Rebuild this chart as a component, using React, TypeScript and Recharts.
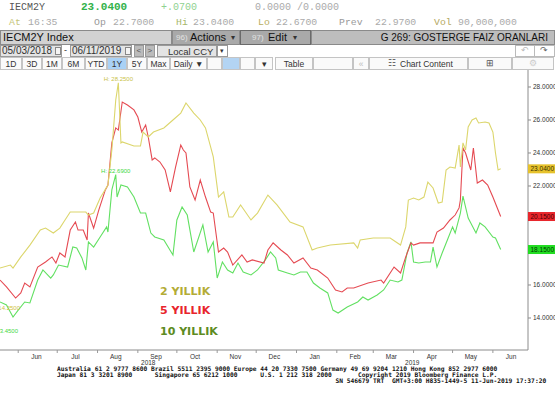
import React from "react";
import { LineChart, Line, XAxis, YAxis, ReferenceDot } from "recharts";

// day numbers count from 2018-06-01 (day 0); the visible window opens around 18 May 2018
const days2y = [-14, -6, -4, 2, 9, 17, 21, 27, 32, 35, 40, 45, 52, 54, 58, 63, 69, 72, 75, 77, 79, 80, 89, 94, 96, 100, 104, 112, 119, 125, 129, 135, 140, 144, 148, 150, 154, 158, 162, 165, 171, 179, 184, 192, 199, 209, 219, 226, 230, 240, 258, 261, 263, 273, 286, 294, 298, 300, 304, 308, 312, 315, 319, 323, 326, 329, 332, 336, 339, 340, 342, 344, 346, 349, 352, 354, 359, 362, 365, 367, 369, 371];
const vals2y = [17.03, 17.21, 17.03, 17.7, 18.42, 19.33, 19.45, 19.15, 19.45, 19.82, 20.42, 20.42, 20.42, 20.24, 20.36, 21.27, 22.06, 24.18, 27.21, 28.25, 24.61, 24.67, 24.42, 24.42, 25.27, 24.97, 25.27, 25.52, 26.0, 26.42, 27.03, 26.42, 26.0, 25.52, 24.36, 23.76, 21.33, 21.64, 20.12, 20.12, 20.85, 19.94, 20.36, 21.45, 20.85, 19.82, 19.52, 18.12, 18.24, 18.42, 18.55, 18.24, 18.73, 18.85, 18.85, 18.42, 19.52, 21.15, 21.27, 21.15, 21.33, 22.24, 21.88, 20.97, 21.03, 22.97, 23.15, 23.09, 24.48, 23.15, 24.61, 24.18, 25.58, 26.0, 26.12, 25.82, 25.88, 25.82, 25.27, 24.0, 22.97, 23.04];

const days5y = [-14, -9, -2, 2, 5, 9, 15, 21, 26, 29, 32, 36, 40, 44, 46, 50, 53, 54, 58, 62, 67, 69, 72, 75, 77, 80, 84, 89, 92, 95, 98, 100, 103, 105, 109, 113, 117, 121, 125, 127, 129, 132, 136, 140, 144, 148, 150, 154, 158, 161, 165, 172, 176, 180, 189, 192, 196, 202, 207, 212, 219, 225, 230, 238, 244, 249, 253, 258, 269, 279, 281, 289, 294, 298, 302, 304, 309, 319, 322, 327, 332, 336, 339, 340, 342, 344, 348, 350, 353, 357, 361, 365, 371];
const vals5y = [16.3, 15.88, 15.21, 15.52, 16.12, 15.88, 17.09, 17.39, 17.7, 17.33, 17.94, 17.7, 19.33, 19.82, 19.33, 19.33, 18.73, 20.36, 19.45, 20.55, 21.76, 22.06, 24.61, 25.52, 25.39, 27.09, 26.91, 26.61, 26.18, 25.27, 25.7, 24.97, 23.58, 23.7, 23.45, 22.97, 21.64, 23.15, 24.48, 24.18, 24.0, 21.94, 21.15, 22.36, 21.33, 20.42, 20.36, 18.0, 18.24, 18.0, 17.21, 17.82, 17.39, 17.52, 17.33, 18.12, 18.55, 18.12, 17.82, 17.33, 17.64, 17.03, 16.91, 16.42, 15.7, 15.58, 15.82, 15.82, 16.12, 16.3, 16.12, 17.09, 16.73, 17.7, 18.55, 18.42, 18.55, 18.55, 19.21, 19.45, 19.94, 20.24, 20.67, 21.15, 24.3, 24.0, 22.97, 24.3, 22.18, 22.36, 22.06, 21.33, 20.15];

const days10y = [-14, -9, -4, 0, 5, 9, 15, 19, 25, 27, 31, 38, 42, 45, 49, 52, 54, 58, 63, 68, 69, 72, 75, 76, 79, 84, 89, 94, 98, 102, 105, 112, 119, 122, 126, 130, 135, 142, 146, 150, 153, 157, 161, 165, 169, 173, 179, 184, 190, 194, 198, 200, 207, 212, 217, 222, 227, 232, 238, 242, 246, 253, 261, 265, 269, 276, 281, 286, 292, 295, 299, 302, 304, 308, 313, 317, 319, 322, 326, 330, 334, 336, 340, 342, 346, 352, 355, 359, 365, 367, 371];
const vals10y = [14.97, 14.79, 14.06, 14.48, 14.97, 14.91, 16.3, 16.91, 16.42, 16.61, 17.21, 17.09, 18.3, 18.24, 17.64, 16.91, 18.61, 18.3, 18.91, 19.52, 19.21, 21.76, 22.69, 21.33, 22.06, 21.94, 21.33, 20.36, 20.36, 19.15, 18.91, 18.73, 17.82, 19.94, 20.73, 20.24, 18.0, 19.64, 18.0, 18.61, 16.42, 17.39, 16.91, 16.73, 17.33, 16.79, 16.61, 16.91, 17.52, 18.0, 17.64, 16.91, 16.73, 16.61, 16.79, 16.79, 16.12, 15.82, 15.52, 14.48, 14.3, 14.67, 14.97, 15.27, 15.09, 15.39, 15.7, 16.3, 16.18, 16.3, 17.94, 18.61, 17.39, 17.33, 17.39, 17.39, 18.3, 17.09, 17.94, 18.73, 19.52, 19.15, 20.36, 21.39, 20.06, 19.15, 19.76, 19.52, 18.91, 18.85, 18.15];

// 18 and 20 sit behind the last-value tags, so they are not drawn
const yTicks = [14, 16, 22, 24, 26, 28];
const monthNames = ["Jun", "Jul", "Aug", "Sep", "Oct", "Nov", "Dec", "Jan", "Feb", "Mar", "Apr", "May", "Jun"];
const monthStarts = [0, 30, 61, 92, 122, 153, 183, 214, 245, 273, 304, 334, 365];
const monthMids = [14, 44, 75, 106, 136, 167, 197, 228, 259, 287, 318, 348, 379];
const yearNames = ["2018", "2019"];

const xDomain = [-14, 392];
const jan2019 = 214;
const yearMids = [(xDomain[0] + jan2019) / 2, (jan2019 + xDomain[1]) / 2];
const xTicks = [...monthStarts, ...monthMids, ...yearMids];

const toRows = (days: number[], vals: number[]) => days.map((d, i) => ({ d, v: vals[i] }));

const C2 = "#dcd66c";
const C5 = "#e54a52";
const C10 = "#62e062";

const mono = '"Liberation Mono", "DejaVu Sans Mono", monospace';
const sans = '"Liberation Sans", Arial, sans-serif';

function T({ x, y, s, c, f = mono, b, children }: any) {
  return (
    <div style={{ position: "absolute", left: x, top: y, fontSize: s, lineHeight: `${s}px`, color: c, fontFamily: f, fontWeight: b ? 700 : 400, whiteSpace: "pre" }}>
      {children}
    </div>
  );
}

function Box({ x, y, w, h, bg, bd }: any) {
  return <div style={{ position: "absolute", left: x, top: y, width: w, height: h, background: bg, border: bd ? `1px solid ${bd}` : undefined, boxSizing: "border-box" }} />;
}

const MonthTick = (props: any) => {
  const { x, y, payload } = props;
  const v = payload.value;
  const mi = monthMids.indexOf(v);
  if (mi >= 0)
    return (
      <text x={x} y={y + 8.5} textAnchor="middle" fontSize={6.5} fill="#333" fontFamily={sans}>
        {monthNames[mi]}
      </text>
    );
  const yi = yearMids.indexOf(v);
  if (yi >= 0)
    return (
      <text x={x} y={y + 14.5} textAnchor="middle" fontSize={6.5} fill="#333" fontFamily={sans}>
        {yearNames[yi]}
      </text>
    );
  return <line x1={x} x2={x} y1={y} y2={y + 3} stroke="#999" />;
};

const PeakLabel = ({ viewBox, text, color, dy = -2, anchor = "middle", dx = 0 }: any) => {
  const cx = viewBox.x + viewBox.width / 2;
  const cy = viewBox.y + viewBox.height / 2;
  return (
    <text x={cx + dx} y={cy + dy} textAnchor={anchor} fontSize={6} fill={color} fontFamily={sans}>
      {text}
    </text>
  );
};

const Tag = ({ viewBox, text, bg, fg }: any) => {
  const x = viewBox.x + viewBox.width / 2;
  const y = viewBox.y + viewBox.height / 2;
  return (
    <g>
      <rect x={x} y={y - 4.5} width={27} height={9} fill={bg} />
      <text x={x + 2.5} y={y + 2.4} fontSize={6.5} fill={fg} fontFamily={sans}>
        {text}
      </text>
    </g>
  );
};

function Header() {
  const buttons: [number, number, string, string?][] = [
    [0, 22, "1D"], [22, 42, "3D"], [42, 62, "1M"], [62, 85, "6M"], [85, 107, "YTD"],
    [107, 127, "1Y", "#a9d1f5"], [127, 147, "5Y"], [147, 170, "Max"], [170, 207, "Daily \u25BC"],
    [207, 222, ""], [222, 240, "", "#b3d4f3"], [240, 255, ""], [255, 273, "\u25BE"],
    [275, 313, "Table"], [313, 353, ""], [353, 369, "\u00AB"], [369, 468, ""], [468, 512, ""], [512, 554, ""],
  ];
  return (
    <>
      <T x={9} y={2.6} s={10} c="#555">IECM2Y</T>
      <T x={81} y={2.2} s={11} c="#33b24a" b>23.0400</T>
      <T x={161} y={2.6} s={10} c="#8fd18f">+.0700</T>
      <T x={255} y={2.6} s={10} c="#aaa">0.0000 /0.0000</T>

      <T x={9} y={17.7} s={9.8} c="#c6c67a">At</T>
      <T x={28} y={17.7} s={9.8} c="#aaa">16:35</T>
      <T x={94} y={17.7} s={9.8} c="#999">Op</T>
      <T x={113} y={17.7} s={9.8} c="#aaa">22.7000</T>
      <T x={176} y={17.7} s={9.8} c="#a6b76a">Hi</T>
      <T x={193} y={17.7} s={9.8} c="#aaa">23.0400</T>
      <T x={258} y={17.7} s={9.8} c="#b8ad5e">Lo</T>
      <T x={276} y={17.7} s={9.8} c="#aaa">22.6700</T>
      <T x={339} y={17.7} s={9.8} c="#999">Prev</T>
      <T x={375} y={17.7} s={9.8} c="#aaa">22.9700</T>
      <T x={434} y={17.7} s={9.8} c="#b5a860">Vol</T>
      <T x={458} y={17.7} s={9.8} c="#aaa">90,000,000</T>

      <Box x={0} y={30} w={172} h={15} bg="#d2d2d2" bd="#8a8a8a" />
      <T x={3} y={32.2} s={11} c="#111" f={sans}>IECM2Y Index</T>
      <Box x={172} y={30} w={68} h={15} bg="#a9a9a9" bd="#8a8a8a" />
      <T x={176} y={34} s={8} c="#e2e2e2" f={sans}>96)</T>
      <T x={190} y={32.2} s={11} c="#111" f={sans}>Actions</T>
      <T x={231} y={34} s={8} c="#333" f={sans}>{"\u25BE"}</T>
      <Box x={240} y={30} w={71} h={15} bg="#a9a9a9" bd="#6a6a6a" />
      <T x={252} y={34} s={8} c="#e2e2e2" f={sans}>97)</T>
      <T x={268} y={32.2} s={11} c="#111" f={sans}>Edit</T>
      <T x={293} y={34} s={8} c="#333" f={sans}>{"\u25BE"}</T>
      <Box x={311} y={30} w={244} h={15} bg="#bdbdbd" bd="#8a8a8a" />
      <div style={{ position: "absolute", left: 311, top: 32.6, width: 237, textAlign: "right", fontSize: 10, lineHeight: "10px", color: "#111", fontFamily: sans }}>
        G 269: GOSTERGE FAIZ ORANLARI
      </div>

      <Box x={0} y={45} w={62} h={12} bg="#e4e4e4" bd="#9a9a9a" />
      <T x={2} y={46.2} s={10} c="#333" f={sans}>05/03/2018</T>
      <Box x={55} y={47} w={6} h={8} bg="#f4f4f4" bd="#888" />
      <T x={64} y={46} s={9} c="#333" f={sans}>-</T>
      <Box x={70} y={45} w={62} h={12} bg="#e4e4e4" bd="#9a9a9a" />
      <T x={72} y={46.2} s={10} c="#333" f={sans}>06/11/2019</T>
      <Box x={125} y={47} w={6} h={8} bg="#f4f4f4" bd="#888" />
      <Box x={134} y={45} w={10} h={12} bg="#bbb" bd="#999" />
      <T x={136.5} y={47} s={8} c="#555" f={sans}>{"<"}</T>
      <Box x={145} y={45} w={10} h={12} bg="#bbb" bd="#999" />
      <T x={147.5} y={47} s={8} c="#555" f={sans}>{">"}</T>
      <Box x={157} y={45} w={60} h={12} bg="#e4e4e4" bd="#9a9a9a" />
      <T x={168} y={46.5} s={9.5} c="#333" f={sans}>Local CCY</T>
      <Box x={217} y={45} w={11} h={12} bg="#fff" bd="#9a9a9a" />
      <T x={220} y={47} s={7} c="#333" f={sans}>{"\u25BE"}</T>
      <Box x={515} y={45} w={20} h={12} bg="#fff" bd="#bbb" />
      <T x={521} y={46} s={9} c="#bbb" f={sans}>{"\u21B6"}</T>
      <Box x={534} y={45} w={21} h={12} bg="#fff" bd="#bbb" />
      <T x={540} y={46} s={9} c="#666" f={sans}>{"\u21B7"}</T>

      {buttons.map(([a, b, label, bg], i) => (
        <React.Fragment key={i}>
          <Box x={a} y={57} w={b - a} h={13} bg={bg || "#fafafa"} bd="#c4c4c4" />
          <div style={{ position: "absolute", left: a, top: 59.5, width: b - a, textAlign: "center", fontSize: 8.5, lineHeight: "8.5px", color: label === "\u00AB" ? "#bbb" : "#333", fontFamily: sans }}>
            {label}
          </div>
        </React.Fragment>
      ))}
      <T x={388} y={59} s={9} c="#444" f={sans}>{"\u2637"}</T>
      <T x={400} y={59.5} s={8.5} c="#333" f={sans}>Chart Content</T>
      <T x={486} y={59} s={9} c="#555" f={sans}>{"\u229E"}</T>
      <T x={529} y={59} s={9} c="#ccc" f={sans}>{"\u2699"}</T>
    </>
  );
}

export default function App() {
  return (
    <div style={{ position: "absolute", left: 0, top: 0, width: 555, height: 400, overflow: "hidden", background: "#fff" }}>
      <Header />
      <div style={{ position: "absolute", left: 0, top: 60 }}>
        <LineChart width={555} height={320} margin={{ top: 10, right: 0, left: 0, bottom: 0 }}>
          <XAxis
            dataKey="d"
            type="number"
            domain={xDomain}
            allowDataOverflow
            ticks={xTicks}
            interval={0}
            tick={<MonthTick />}
            tickLine={false}
            tickSize={0}
            tickMargin={0}
            height={30}
            axisLine={{ stroke: "#8c8c8c" }}
          />
          <YAxis
            orientation="right"
            type="number"
            domain={[12.06, 29.03]}
            allowDataOverflow
            ticks={yTicks}
            interval={0}
            tickFormatter={(v: number) => v.toFixed(4)}
            tick={{ fontSize: 6.5, fill: "#333", fontFamily: sans }}
            tickSize={3}
            tickMargin={2}
            width={27}
            axisLine={{ stroke: "#8c8c8c" }}
            tickLine={{ stroke: "#8c8c8c" }}
          />
          <Line data={toRows(days10y, vals10y)} dataKey="v" type="linear" stroke={C10} strokeWidth={1.1} dot={false} isAnimationActive={false} />
          <Line data={toRows(days5y, vals5y)} dataKey="v" type="linear" stroke={C5} strokeWidth={1.1} dot={false} isAnimationActive={false} />
          <Line data={toRows(days2y, vals2y)} dataKey="v" type="linear" stroke={C2} strokeWidth={1.1} dot={false} isAnimationActive={false} />

          <ReferenceDot x={77} y={28.25} r={0} ifOverflow="visible" label={<PeakLabel text="H: 28.2500" color="#c9c247" dy={-2} />} />
          <ReferenceDot x={75} y={22.69} r={0} ifOverflow="visible" label={<PeakLabel text="H: 22.6900" color="#3fd83f" dy={-2} />} />
          <ReferenceDot x={-14} y={14.25} r={0} ifOverflow="visible" label={<PeakLabel text="L: 14.2500" color="#d0c040" anchor="end" dx={20} dy={-4} />} />
          <ReferenceDot x={-14} y={13.45} r={0} ifOverflow="visible" label={<PeakLabel text="L: 13.4500" color="#3fd83f" anchor="end" dx={18} dy={6} />} />

          <ReferenceDot x={xDomain[1]} y={23.04} r={0} ifOverflow="visible" label={<Tag text="23.0400" bg="#e6c22c" fg="#3a3000" />} />
          <ReferenceDot x={xDomain[1]} y={20.15} r={0} ifOverflow="visible" label={<Tag text="20.1500" bg="#e8262c" fg="#4a0000" />} />
          <ReferenceDot x={xDomain[1]} y={18.15} r={0} ifOverflow="visible" label={<Tag text="18.1500" bg="#22dd22" fg="#003a00" />} />
        </LineChart>
      </div>

      <T x={160} y={285.7} s={11} c="#b3ac36" f='"DejaVu Sans", sans-serif' b>2 YILLIK</T>
      <T x={160} y={304.7} s={11} c="#e8242c" f='"DejaVu Sans", sans-serif' b>5 YILLIK</T>
      <T x={160} y={325.7} s={11} c="#5d8b22" f='"DejaVu Sans", sans-serif' b>10 YILLIK</T>

      <div style={{ position: "absolute", left: 57, top: 366, fontSize: 6.26, lineHeight: "6px", color: "#111", fontFamily: '"DejaVu Sans Mono", monospace', fontWeight: 700, whiteSpace: "pre" }}>
        {"Australia 61 2 9777 8600 Brazil 5511 2395 9000 Europe 44 20 7330 7500 Germany 49 69 9204 1210 Hong Kong 852 2977 6000\n" +
          "Japan 81 3 3201 8900      Singapore 65 6212 1000      U.S. 1 212 318 2000       Copyright 2019 Bloomberg Finance L.P.\n" +
          "                                                                          SN 546679 TRT  GMT+3:00 H835-1449-5 11-Jun-2019 17:37:20"}
      </div>
    </div>
  );
}
